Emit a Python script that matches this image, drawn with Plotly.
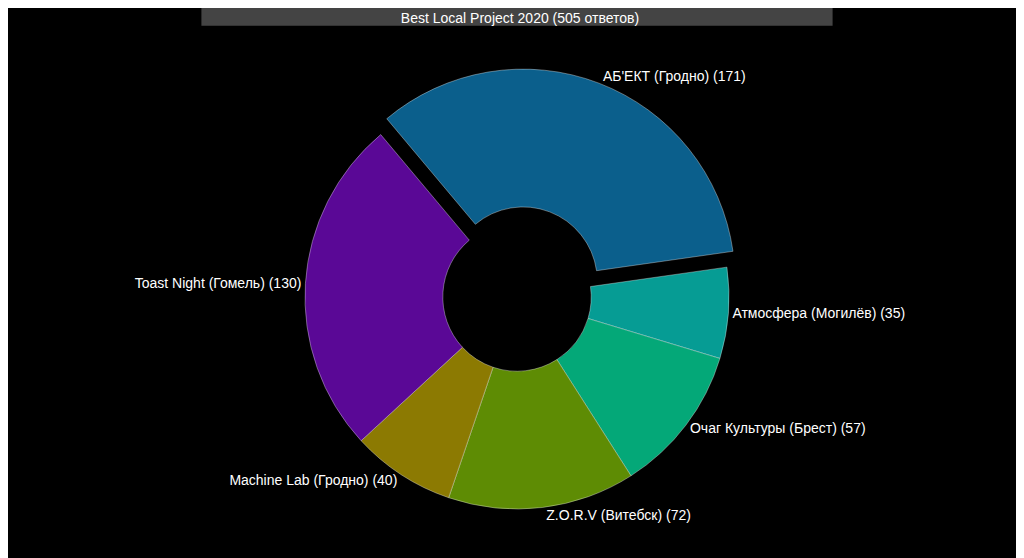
import plotly.graph_objects as go

labels = ["АБ'ЕКТ (Гродно)", "Атмосфера (Могилёв)", "Очаг Культуры (Брест)",
          "Z.O.R.V (Витебск)", "Machine Lab (Гродно)", "Toast Night (Гомель)"]
values = [171, 35, 57, 72, 40, 130]
colors = ["#0b5f8c", "#069c94", "#04a878", "#5e8c04", "#8c7a02", "#5a0896"]

fig = go.Figure(go.Pie(
    labels=labels, values=values, hole=0.35, sort=False,
    direction="clockwise", rotation=-40,
    pull=[0.08, 0, 0, 0, 0, 0],
    marker=dict(colors=colors, line=dict(color="rgba(255,255,255,0.35)", width=1)),
    texttemplate="%{label} (%{value})", textposition="outside",
    textfont=dict(color="white", size=14, family="Liberation Sans"),
    showlegend=False,
))

fig.update_layout(
    width=1024, height=558,
    paper_bgcolor="black", plot_bgcolor="black",
    margin=dict(l=20, r=20, t=60, b=40),
    title=dict(text="Best Local Project 2020 (505 ответов)", x=0.5, y=0.99,
               font=dict(color="white", size=14, family="Liberation Sans")),
    shapes=[dict(type="rect", xref="paper", yref="paper", x0=-0.1, x1=1.1,
                 y0=1.092, y1=1.14, fillcolor="#444444", line_width=0, layer="below")],
)

fig.write_html("out.html")
